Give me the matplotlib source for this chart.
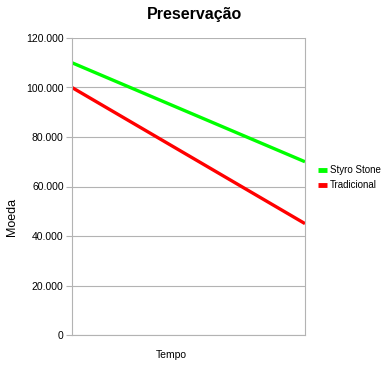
import matplotlib
matplotlib.use("Agg")
import matplotlib.pyplot as plt
from matplotlib.ticker import FuncFormatter

periods = [0, 1]
styro_stone = [110000, 70000]
tradicional = [100000, 45000]
series_names = ["Styro Stone", "Tradicional"]
yticks = [0, 20000, 40000, 60000, 80000, 100000, 120000]

plt.rcParams['font.family'] = ['Liberation Sans', 'DejaVu Sans']

fig = plt.figure(figsize=(3.92, 3.75), dpi=100)
ax = fig.add_axes([72/392, 40/375, (305-72)/392, (335-38)/375])

ax.plot(periods, styro_stone, color='#00ff00', lw=2.4, label=series_names[0], solid_capstyle='butt')
ax.plot(periods, tradicional, color='#ff0000', lw=2.4, label=series_names[1], solid_capstyle='butt')

ax.set_xlim(0, 1)
ax.set_ylim(0, 120000)
ax.set_yticks(yticks)
ax.yaxis.set_major_formatter(FuncFormatter(lambda v, p: "0" if v == 0 else f"{int(v):,}".replace(",", ".")))
ax.set_xticks([])
ax.grid(axis='y', color='#b3b3b3', lw=0.8)
ax.set_axisbelow(True)
for s in ax.spines.values():
    s.set_color('#b3b3b3')
    s.set_linewidth(0.8)
ax.spines['top'].set_visible(False)
ax.tick_params(axis='y', colors='#b3b3b3', labelcolor='black', labelsize=7.5, length=4, width=0.8, pad=2)

fig.text(12/392, 1 - 217/375, "Moeda", rotation=90, ha='center', va='center', fontsize=9)
fig.text(171/392, 1 - 355/375, "Tempo", ha='center', va='center', fontsize=7.5)
fig.text(195/392, 1 - 15/375, "Preservação", ha='center', va='center', fontsize=11.5, fontweight='bold')

leg = ax.legend(loc='center left', bbox_to_anchor=(1.02, 0.53), frameon=False, fontsize=7,
                handlelength=0.9, handletextpad=0.3, labelspacing=0.5)
for l in leg.get_lines():
    l.set_linewidth(3.5)

fig.savefig("out.png", dpi=100)
